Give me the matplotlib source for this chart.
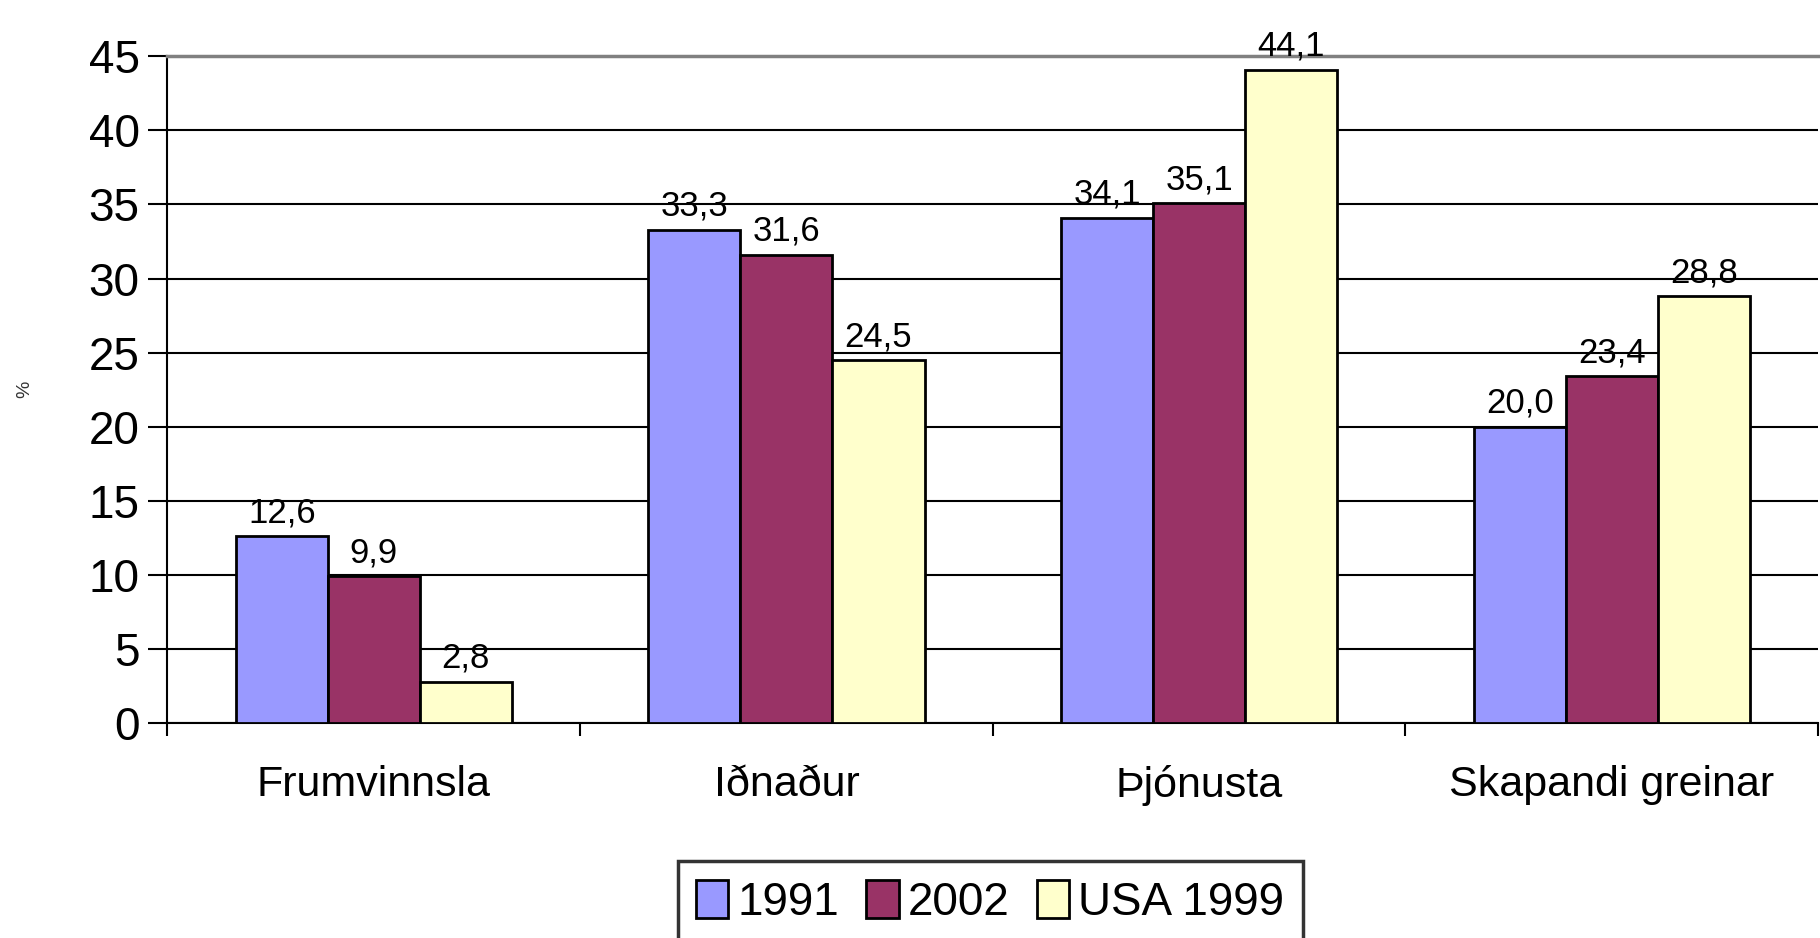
import matplotlib.pyplot as plt
import numpy as np
from matplotlib.ticker import FixedLocator, NullFormatter

# data
flokkar = ['Frumvinnsla', 'Iðnaður', 'Þjónusta', 'Skapandi greinar']
ar_1991 = [12.6, 33.3, 34.1, 20.0]
ar_2002 = [9.9, 31.6, 35.1, 23.4]
usa_1999 = [2.8, 24.5, 44.1, 28.8]
heiti = ['1991', '2002', 'USA 1999']
litir = ['#9999FF', '#993366', '#FFFFCC']

plt.rcParams['font.family'] = ['Liberation Sans Narrow', 'Liberation Sans', 'DejaVu Sans']

fig = plt.figure(figsize=(18.2, 9.38), dpi=100)
ax = fig.add_axes([0.092, 0.229, 0.907, 0.711])

x = np.arange(len(flokkar))
b = 0.223
for i, (gildi, nafn, litur) in enumerate(zip([ar_1991, ar_2002, usa_1999], heiti, litir)):
    bars = ax.bar(x + (i - 1) * b, gildi, b, color=litur, edgecolor='black',
                  linewidth=2, label=nafn, zorder=3)
    for rect, v in zip(bars, gildi):
        ax.annotate(f'{v:.1f}'.replace('.', ','),
                    (rect.get_x() + rect.get_width() / 2, rect.get_height()),
                    xytext=(0, 5), textcoords='offset points',
                    ha='center', va='bottom', fontsize=25, zorder=4)

ax.set_xlim(-0.5, 3.5)
ax.set_ylim(0, 45)
ax.set_yticks(np.arange(0, 46, 5))
ax.tick_params(axis='y', labelsize=33, length=14, width=1.5, pad=6)
ax.yaxis.grid(True, color='black', linewidth=1.5, zorder=0)
ax.get_ygridlines()[-1].set_visible(False)

ax.xaxis.set_major_locator(FixedLocator(np.arange(-0.5, 4, 1)))
ax.xaxis.set_major_formatter(NullFormatter())
ax.xaxis.set_minor_locator(FixedLocator(x))
ax.set_xticklabels(flokkar, minor=True)
ax.tick_params(axis='x', which='major', length=9, width=1.5, direction='out')
ax.tick_params(axis='x', which='minor', length=0, labelsize=31, pad=30)

ax.spines['right'].set_visible(False)
ax.spines['top'].set_color('gray')
ax.spines['top'].set_linewidth(2.5)
ax.spines['left'].set_linewidth(1.5)
ax.spines['bottom'].set_linewidth(1.5)

ax.set_ylabel('%', fontsize=14, color='#333333', labelpad=40)

leg = fig.legend(loc='upper center', bbox_to_anchor=(0.544, 0.106), ncol=3,
                 fontsize=33, frameon=True, fancybox=False, handlelength=0.7,
                 handleheight=0.9, handletextpad=0.2, columnspacing=0.6,
                 borderpad=0.4)
leg.get_frame().set_edgecolor('black')
leg.get_frame().set_linewidth(2.5)

plt.savefig('out.png', dpi=100)
